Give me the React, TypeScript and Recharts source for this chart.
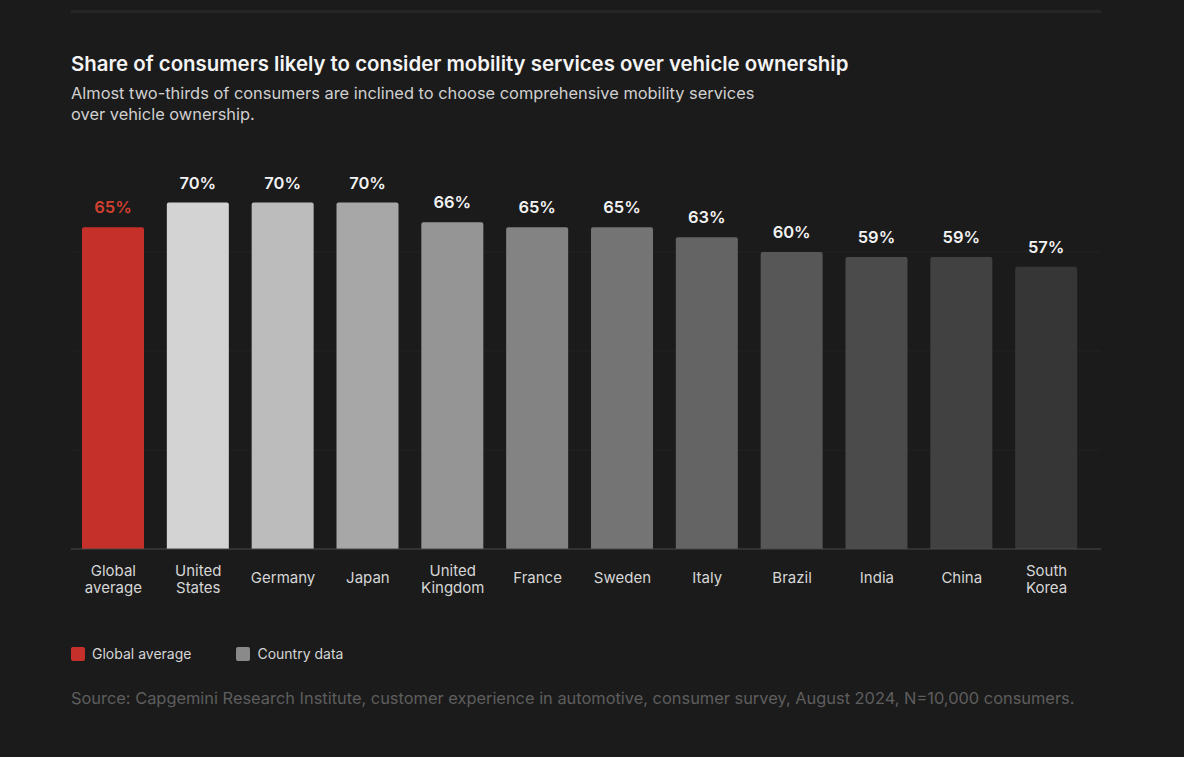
import React from 'react'
import { BarChart, Bar, XAxis, YAxis, CartesianGrid, Cell, LabelList } from 'recharts'

// Share of consumers (%) likely to pick mobility services over ownership
const categories = [
  'Global average',
  'United States',
  'Germany',
  'Japan',
  'United Kingdom',
  'France',
  'Sweden',
  'Italy',
  'Brazil',
  'India',
  'China',
  'South Korea',
]
const shares = [65, 70, 70, 70, 66, 65, 65, 63, 60, 59, 59, 57]
const barColors = [
  '#c6302a',
  '#d3d3d3',
  '#bcbcbc',
  '#a7a7a7',
  '#959595',
  '#838383',
  '#747474',
  '#646464',
  '#575757',
  '#4b4b4b',
  '#414141',
  '#363636',
]
const yTicks = [0, 20, 40, 60]

const RED = '#c6302a'
const FONT = 'Inter, "Noto Sans", sans-serif'

const data = categories.map((name, i) => ({ name, share: shares[i] }))

const CategoryTick = ({ x, y, payload }: any) => {
  const words: string[] = payload.value.split(' ')
  const lines = words.length > 1 ? [words[0], words.slice(1).join(' ')] : words
  const startY = lines.length > 1 ? y + 19 : y + 26
  return (
    <text x={x} y={startY} textAnchor="middle" fill="#d6d6d6" fontSize={15} fontFamily={FONT}>
      {lines.map((l, i) => (
        <tspan key={i} x={x} dy={i === 0 ? 0 : 17}>
          {l}
        </tspan>
      ))}
    </text>
  )
}

const ValueLabel = ({ x, y, width, value, index }: any) => (
  <text
    x={x + width / 2}
    y={y - 14}
    textAnchor="middle"
    fill={index === 0 ? '#d2402f' : '#f2f2f2'}
    fontSize={16.5}
    fontWeight={600}
    fontFamily={FONT}
  >
    {`${value}%`}
  </text>
)

export default function App() {
  return (
    <div
      style={{
        position: 'fixed',
        inset: 0,
        width: 1184,
        height: 757,
        background: '#1b1b1b',
        fontFamily: FONT,
        overflow: 'hidden',
      }}
    >
      <div style={{ position: 'absolute', left: 71, top: 10, width: 1030, height: 3, background: '#262626' }} />
      <div
        style={{
          position: 'absolute',
          left: 71,
          top: 51,
          color: '#f4f4f4',
          fontSize: 20.4,
          fontWeight: 600,
          whiteSpace: 'nowrap',
        }}
      >
        Share of consumers likely to consider mobility services over vehicle ownership
      </div>
      <div
        style={{
          position: 'absolute',
          left: 71,
          top: 83,
          width: 720,
          color: '#d0d0d0',
          fontSize: 16.4,
          lineHeight: '21px',
          whiteSpace: 'nowrap',
        }}
      >
        Almost two-thirds of consumers are inclined to choose comprehensive mobility services
        <br />
        over vehicle ownership.
      </div>

      <div style={{ position: 'absolute', left: 71, top: 140 }}>
        <BarChart
          width={1030}
          height={470}
          data={data}
          margin={{ top: 13, right: 0, bottom: 0, left: 0 }}
          barSize={62}
        >
          <CartesianGrid vertical={false} stroke="#222222" horizontalValues={[20, 40, 60]} />
          <YAxis hide domain={[0, 80]} ticks={yTicks} />
          <XAxis
            dataKey="name"
            interval={0}
            padding={{ left: 0, right: 12 }}
            axisLine={{ stroke: '#4a4a4a' }}
            tickLine={false}
            tick={<CategoryTick />}
            height={61}
          />
          <Bar dataKey="share" isAnimationActive={false} radius={[2, 2, 0, 0]}>
            {data.map((d, i) => (
              <Cell key={d.name} fill={barColors[i]} />
            ))}
            <LabelList dataKey="share" content={<ValueLabel />} />
          </Bar>
        </BarChart>
      </div>

      <div
        style={{
          position: 'absolute',
          left: 71,
          top: 645,
          display: 'flex',
          alignItems: 'center',
          fontSize: 14,
          color: '#d6d6d6',
        }}
      >
        <span style={{ width: 14, height: 14, background: RED, borderRadius: 2, marginRight: 7 }} />
        <span style={{ marginRight: 45 }}>Global average</span>
        <span style={{ width: 14, height: 14, background: '#8a8a8a', borderRadius: 2, marginRight: 7 }} />
        <span>Country data</span>
      </div>

      <div
        style={{
          position: 'absolute',
          left: 71,
          top: 688,
          color: '#5e5e5e',
          fontSize: 16.4,
          whiteSpace: 'nowrap',
        }}
      >
        Source: Capgemini Research Institute, customer experience in automotive, consumer survey, August 2024, N=10,000 consumers.
      </div>
    </div>
  )
}
